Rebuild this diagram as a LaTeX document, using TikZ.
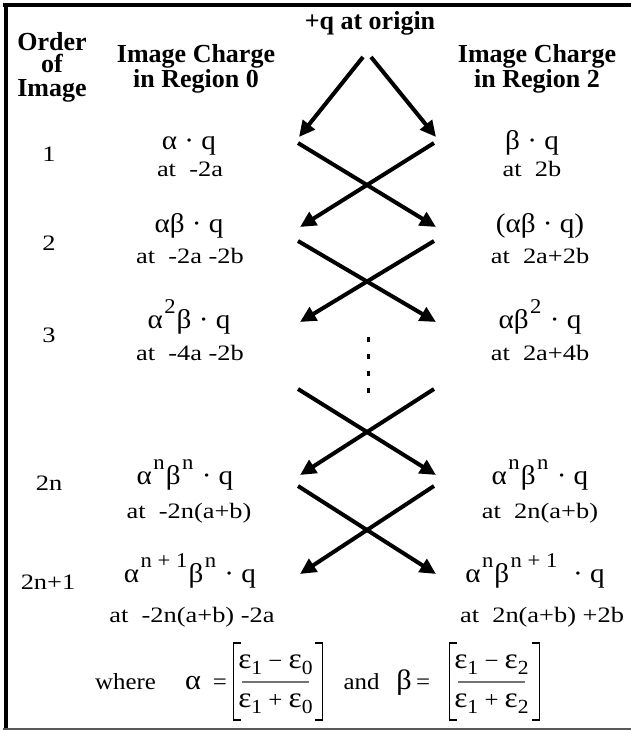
\documentclass[tikz,border=0pt]{standalone}
\usepackage{fontspec}
\setmainfont{Liberation Serif}
\newfontfamily\bodyfont[FakeStretch=1.08]{Liberation Serif}
\newfontfamily\locfont[FakeStretch=1.2]{Liberation Serif}
\usetikzlibrary{arrows.meta}
\newcommand\upx[1]{\hspace{1.5pt}\raisebox{15pt}{\fontsize{21}{21}\selectfont #1}\hspace{1pt}}
\newcommand\dnx[1]{\raisebox{-6pt}{\fontsize{20}{20}\selectfont #1}}
\newcommand\eps{{\fontsize{29}{29}\selectfont ε}}
\begin{document}
\begin{tikzpicture}[x=1pt,y=-1pt,
  hdr/.style={font=\fontsize{26}{26}\selectfont\bfseries,inner sep=0pt,anchor=base},
  bigtxt/.style={font=\bodyfont\fontsize{27}{27}\selectfont,inner sep=0pt,anchor=base},
  loctxt/.style={font=\locfont\fontsize{22}{22}\selectfont,inner sep=0pt,anchor=base},
  ordtxt/.style={font=\locfont\fontsize{22}{22}\selectfont,inner sep=0pt,anchor=base},
  eqtxt/.style={font=\bodyfont\fontsize{23}{23}\selectfont,inner sep=0pt,anchor=base},
  grk/.style={font=\bodyfont\fontsize{28}{28}\selectfont,inner sep=0pt,anchor=base},
  brk/.style={line width=1.6pt},
  fbar/.style={line width=1.3pt,black!55},
  arr/.style={line width=4pt,-{Triangle[length=16pt,width=15pt]}},
  dotsq/.style={fill=black}]
\useasboundingbox (0,0) rectangle (631,730);
% frame
\draw[line width=4pt] (3,4.7) -- (631,4.7);
\draw[line width=4.5pt] (6,3) -- (6,729);
\draw[line width=2pt,black!65] (3,729) -- (631,729);
% headers
\node[hdr] (origin) at (370,30) {+q at origin};
\node[hdr] (ordA) at (52,51) {Order};
\node[hdr] (ordB) at (52,73) {of};
\node[hdr] (ordC) at (52,97) {Image};
\node[hdr] (h0a) at (196,63) {Image Charge};
\node[hdr] (h0b) at (196,88) {in Region 0};
\node[hdr] (h2a) at (537,63) {Image Charge};
\node[hdr] (h2b) at (537,88) {in Region 2};
% order numbers
\node[ordtxt] (o1) at (49,162) {1};
\node[ordtxt] (o2) at (49,250) {2};
\node[ordtxt] (o3) at (49,342) {3};
\node[ordtxt] (o4) at (49,490) {2n};
\node[ordtxt] (o5) at (48,589) {2n+1};
% region 0
\node[bigtxt] (l1) at (189,150) {α · q};
\node[loctxt] (l1p) at (190,176) {at\ \ -2a};
\node[bigtxt] (l2) at (189,232) {αβ · q};
\node[loctxt] (l2p) at (190,263) {at\ \ -2a -2b};
\node[bigtxt] (l3) at (189,328) {α\upx{2}β · q};
\node[loctxt] (l3p) at (190,360) {at\ \ -4a -2b};
\node[bigtxt] (l4) at (185,484) {α\upx{n}β\upx{n} · q};
\node[loctxt] (l4p) at (189,518) {at\ \ -2n(a+b)};
\node[bigtxt] (l5) at (190,582) {α\upx{n + 1}β\upx{n} · q};
\node[loctxt] (l5p) at (192,622) {at\ \ -2n(a+b) -2a};
% region 2
\node[bigtxt] (r1) at (532,150) {β · q};
\node[loctxt] (r1p) at (532,176) {at\ \ 2b};
\node[bigtxt] (r2) at (540,232) {(αβ · q)};
\node[loctxt] (r2p) at (540,263) {at\ \ 2a+2b};
\node[bigtxt] (r3) at (540,328) {αβ\upx{2} · q};
\node[loctxt] (r3p) at (540,360) {at\ \ 2a+4b};
\node[bigtxt] (r4) at (540,484) {α\upx{n}β\upx{n} · q};
\node[loctxt] (r4p) at (540,518) {at\ \ 2n(a+b)};
\node[bigtxt] (r5) at (535,582) {α\upx{n}β\upx{n + 1}\ \ · q};
\node[loctxt] (r5p) at (542,622) {at\ \ 2n(a+b) +2b};
% arrow coordinates
\coordinate (t0l) at (363,57);  \coordinate (t0r) at (371,57);
\coordinate (e0l) at (299,137); \coordinate (e0r) at (436,137);
\coordinate (s1l) at (298,143); \coordinate (s1r) at (434,143);
\coordinate (e1l) at (300,227); \coordinate (e1r) at (436,227);
\coordinate (s2l) at (298,241); \coordinate (s2r) at (434,241);
\coordinate (e2l) at (300,322); \coordinate (e2r) at (436,322);
\coordinate (s3l) at (298,389); \coordinate (s3r) at (434,389);
\coordinate (e3l) at (300,475); \coordinate (e3r) at (436,475);
\coordinate (s4l) at (298,486); \coordinate (s4r) at (434,486);
\coordinate (e4l) at (300,574); \coordinate (e4r) at (436,574);
\draw[arr] (t0l) -- (e0l);
\draw[arr] (t0r) -- (e0r);
\draw[arr] (s1l) -- (e1r);
\draw[arr] (s1r) -- (e1l);
\draw[arr] (s2l) -- (e2r);
\draw[arr] (s2r) -- (e2l);
\draw[arr] (s3l) -- (e3r);
\draw[arr] (s3r) -- (e3l);
\draw[arr] (s4l) -- (e4r);
\draw[arr] (s4r) -- (e4l);
% dots
\foreach \yy in {340,357,374,391} \fill[dotsq] (366.5,\yy-3) rectangle (369.5,\yy+2);
% formula
\node[eqtxt, anchor=base west] (where) at (95,689) {where};
\node[grk] (alph) at (193,689) {α};
\node[eqtxt] (eq1) at (220,689) {=};
\node[eqtxt] (num1) at (275.5,668) {\eps\dnx{1} − \eps\dnx{0}};
\node[eqtxt] (den1) at (275.5,707) {\eps\dnx{1} + \eps\dnx{0}};
\draw[fbar] (242,682) -- (309,682);
\draw[brk] (241,643) -- (233.5,643) -- (233.5,720) -- (241,720);
\draw[brk] (315,643) -- (322.5,643) -- (322.5,720) -- (315,720);
\node[eqtxt] (andw) at (361.5,689) {and};
\node[grk] (bet) at (404,689) {β};
\node[eqtxt] (eq2) at (423,689) {=};
\node[eqtxt] (num2) at (491.5,668) {\eps\dnx{1} − \eps\dnx{2}};
\node[eqtxt] (den2) at (491.5,707) {\eps\dnx{1} + \eps\dnx{2}};
\draw[fbar] (458,682) -- (525,682);
\draw[brk] (457,643) -- (449.5,643) -- (449.5,720) -- (457,720);
\draw[brk] (532,643) -- (539.5,643) -- (539.5,720) -- (532,720);
\end{tikzpicture}
\end{document}
